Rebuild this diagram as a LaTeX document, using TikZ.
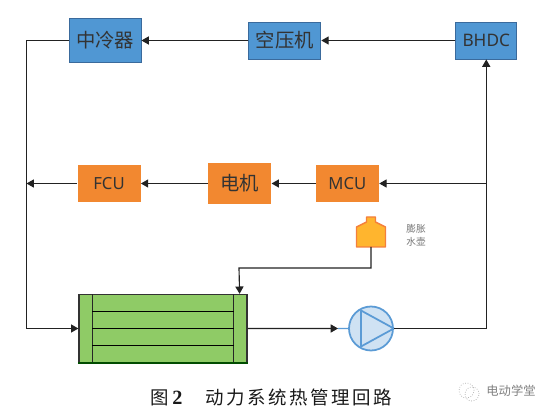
\documentclass[tikz,border=0pt]{standalone}
\usepackage{fontspec}
\setmainfont{Noto Sans}
\newfontfamily\cjk{Noto Sans CJK SC}
\newfontfamily\capfont{Liberation Serif}
\usetikzlibrary{arrows.meta, positioning, calc}
\definecolor{coolblue}{HTML}{5097D3}
\definecolor{cooledge}{HTML}{3A6A9C}
\definecolor{hotorange}{HTML}{F28830}
\definecolor{stackgreen}{HTML}{8FCB66}
\definecolor{tankyellow}{HTML}{FFB52E}
\definecolor{tankedge}{HTML}{F47F3C}
\definecolor{pumpblue}{HTML}{5B9BD5}
\definecolor{pumpfill}{HTML}{CFE2F3}
\definecolor{linegray}{HTML}{222222}

\begin{document}
\begin{tikzpicture}[
  bluebox/.style={rectangle, minimum width=1.44cm, minimum height=0.74cm, inner sep=0pt, draw=cooledge, line width=0.5pt, fill=coolblue, text=black!80, font=\cjk\fontsize{11}{11}\selectfont},
  orangebox/.style={rectangle, minimum width=1.26cm, minimum height=0.74cm, inner sep=0pt, fill=hotorange, text=black!80, font=\fontsize{9.5}{9.5}\selectfont},
  arrow/.style={line width=0.65pt, draw=linegray, -{Triangle[length=4.2pt, width=4.6pt]}},
  plainline/.style={line width=0.65pt, draw=linegray}
]
  \useasboundingbox (0,0) rectangle (11.08,8.32);

  % top row
  \node (cooler) [bluebox, minimum height=0.88cm] at (2.10,7.51) {中冷器};
  \node (compressor) [bluebox, right=2.14cm of cooler] {空压机};
  \node (bhdc) [bluebox, minimum width=1.22cm, right=2.68cm of compressor, font=\fontsize{9.8}{10}\selectfont] {BHDC};

  % middle row
  \node (fcu) [orangebox] at (2.18,4.65) {FCU};
  \node (motor) [orangebox, minimum height=0.82cm, right=1.34cm of fcu, font=\cjk\fontsize{11}{11}\selectfont] {电机};
  \node (mcu) [orangebox, right=0.88cm of motor] {MCU};

  % tank
  \coordinate (tank) at (7.42,3.38);
  \draw [draw=tankedge, fill=tankyellow, line width=0.8pt, line join=round] (tank) ++(-0.29,0) -- ++(0,0.40) -- ++(0.20,0.10) -- ++(0,0.10) -- ++(0.18,0) -- ++(0,-0.10) -- ++(0.20,-0.10) -- ++(0,-0.40) -- cycle;
  \node (tanklabel) [align=center, text=black!55, font=\cjk\fontsize{5.5}{7.4}\selectfont] at (8.32,3.61) {膨胀\\水壶};

  % stack
  \node (stack) [rectangle, minimum width=3.36cm, minimum height=1.36cm, inner sep=0pt, draw=black!80, line width=0.7pt, fill=stackgreen] at (3.26,1.75) {};
  \draw [black!85, line width=0.7pt] ([xshift=0.28cm]stack.south west) -- ([xshift=0.28cm]stack.north west);
  \draw [black!85, line width=0.7pt] ([xshift=-0.28cm]stack.south east) -- ([xshift=-0.28cm]stack.north east);
  \foreach \part in {0.25,0.5,0.75}
    \draw [black, line width=0.6pt] ($([xshift=0.28cm]stack.south west)!\part!([xshift=0.28cm]stack.north west)$) -- ($([xshift=-0.28cm]stack.south east)!\part!([xshift=-0.28cm]stack.north east)$);
  \draw [black!70!green, line width=1pt] (stack.south west) -- (stack.south east);

  % pump
  \node (pump) [circle, minimum size=0.88cm, inner sep=0pt, draw=pumpblue, line width=1pt, fill=pumpfill] at (7.42,1.75) {};
  \draw [draw=pumpblue, line width=1pt, line join=round] ($(pump.center)+(-0.20,0.36)$) -- ($(pump.center)+(-0.20,-0.36)$) -- (pump.east) -- cycle;

  % caption
  \node (caption) [font=\cjk\fontsize{10.5}{12}\selectfont, text=black!90] at (5.43,0.38) {图\,{\capfont\bfseries\fontsize{11.5}{12}\selectfont 2}\hspace{1.25em}\addfontfeature{LetterSpace=14}动力系统热管理回路};

  % watermark
  \node (mark) [font=\cjk\fontsize{7}{8}\selectfont, text=black!50] at (10.22,0.50) {电动学堂};
  \draw [black!35, line width=0.4pt, densely dotted] (9.33,0.51) circle (0.15);
  \draw [black!35, line width=0.4pt, densely dotted] (9.44,0.44) circle (0.14);

  % lines
  \coordinate (corner) at (0.53,1.75);
  \draw [arrow] (bhdc) -- (compressor);
  \draw [arrow] (compressor) -- (cooler);
  \draw [arrow] (mcu) -- (motor);
  \draw [arrow] (motor) -- (fcu);
  \draw [arrow] (fcu) -- (fcu -| corner);
  \draw [arrow] (cooler.west) -| (corner) -- (stack.west);
  \draw [arrow] (tank) |- ++(-2.64,-0.42) -- ([xshift=-0.16cm]stack.north east);
  \draw [arrow] (stack.east) -- ($(stack.east)!0.9!(pump.west)$);
  \draw [draw=pumpblue, line width=0.8pt] ($(stack.east)!0.9!(pump.west)$) -- (pump.west);
  \draw [arrow] (pump.east) -| (bhdc.south);
  \draw [arrow] (bhdc.south |- mcu) -- (mcu.east);
\end{tikzpicture}
\end{document}
